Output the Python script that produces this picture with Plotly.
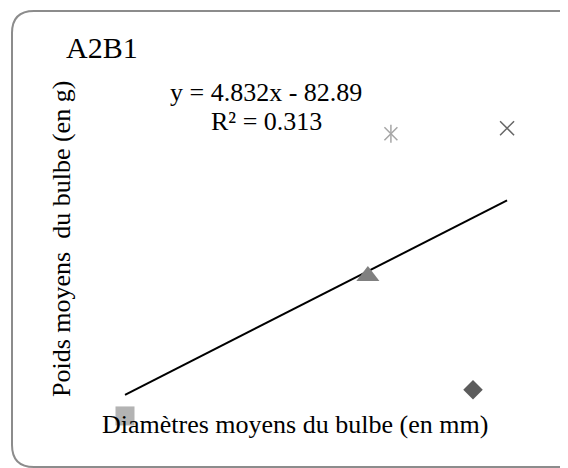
import numpy as np
import plotly.graph_objects as go

# Data
diametres = [26.0, 31.06, 31.54, 33.25, 33.96]   # mm
poids = [38.4, 66.2, 94.5, 43.6, 95.6]            # g
symbols = ["square", "triangle-up", "asterisk", "diamond", "x"]
title_text = "A2B1"
eq_line1 = "y = 4.832x - 82.89"
eq_line2 = "R² = 0.313"
x_title = "Diamètres moyens du bulbe (en mm)"
y_title = "Poids moyens  du bulbe (en g)"

W, H = 568, 468
OFF = 8  # page body margin
FONT = "Liberation Serif, Times New Roman, serif"

def px(x):
    return (x - OFF) / W

def py(y):
    return 1 - (y - OFF) / H

fig = go.Figure()

# trendline computed from data
slope, intercept = np.polyfit(diametres, poids, 1)
xs = np.array([min(diametres), max(diametres)])
fig.add_trace(go.Scatter(x=xs, y=slope * xs + intercept, mode="lines",
                         line=dict(color="black", width=2), showlegend=False,
                         hoverinfo="skip"))

styles = {
    "square": dict(symbol="square", size=19, color="#b3b3b3"),
    "triangle-up": dict(symbol="triangle-up", size=20, color="#808080"),
    "diamond": dict(symbol="diamond", size=15, color="#5c5c5c"),
}
for xv, yv, s in zip(diametres, poids, symbols):
    if s in styles:
        st = styles[s]
        fig.add_trace(go.Scatter(x=[xv], y=[yv], mode="markers", showlegend=False,
                                 marker=dict(symbol=st["symbol"], size=st["size"],
                                             color=st["color"], line=dict(width=0))))
    elif s == "asterisk":
        for sym in ["x-thin-open", "line-ns-open"]:
            fig.add_trace(go.Scatter(x=[xv], y=[yv], mode="markers", showlegend=False,
                                     marker=dict(symbol=sym, size=13, color="#a6a6a6",
                                                 line=dict(width=1.5, color="#a6a6a6"))))
    else:
        fig.add_trace(go.Scatter(x=[xv], y=[yv], mode="markers", showlegend=False,
                                 marker=dict(symbol="x-thin-open", size=14, color="#666666",
                                             line=dict(width=1.5, color="#666666"))))

# rounded border
x0, y0, x1, y1, r = 12, 11, 580, 467, 22
path = (f"M {px(x0)},{py(y0 + r)} "
        f"Q {px(x0)},{py(y0)} {px(x0 + r)},{py(y0)} "
        f"L {px(x1 - r)},{py(y0)} "
        f"Q {px(x1)},{py(y0)} {px(x1)},{py(y0 + r)} "
        f"L {px(x1)},{py(y1 - r)} "
        f"Q {px(x1)},{py(y1)} {px(x1 - r)},{py(y1)} "
        f"L {px(x0 + r)},{py(y1)} "
        f"Q {px(x0)},{py(y1)} {px(x0)},{py(y1 - r)} Z")
fig.add_shape(type="path", path=path, xref="paper", yref="paper",
              line=dict(color="#8c8c8c", width=2), layer="below")

def ann(text, x, y, size, angle=0):
    fig.add_annotation(text=text, x=px(x), y=py(y), xref="paper", yref="paper",
                       showarrow=False, xanchor="center", yanchor="middle",
                       textangle=angle, font=dict(family=FONT, size=size, color="black"))

ann(title_text, 102, 47, 30)
ann(eq_line1, 266, 92, 26)
ann(eq_line2, 266, 121, 26)
ann(x_title, 295, 424, 26)
ann(y_title, 61, 239, 26, angle=-90)

fig.update_layout(
    width=W, height=H,
    margin=dict(l=0, r=0, t=0, b=0),
    paper_bgcolor="white", plot_bgcolor="white",
    xaxis=dict(range=[23.5625, 35.396], visible=False, domain=[0, 1]),
    yaxis=dict(range=[26.46, 119.50], visible=False, domain=[0, 1]),
    showlegend=False,
)
fig.write_html("out.html")
